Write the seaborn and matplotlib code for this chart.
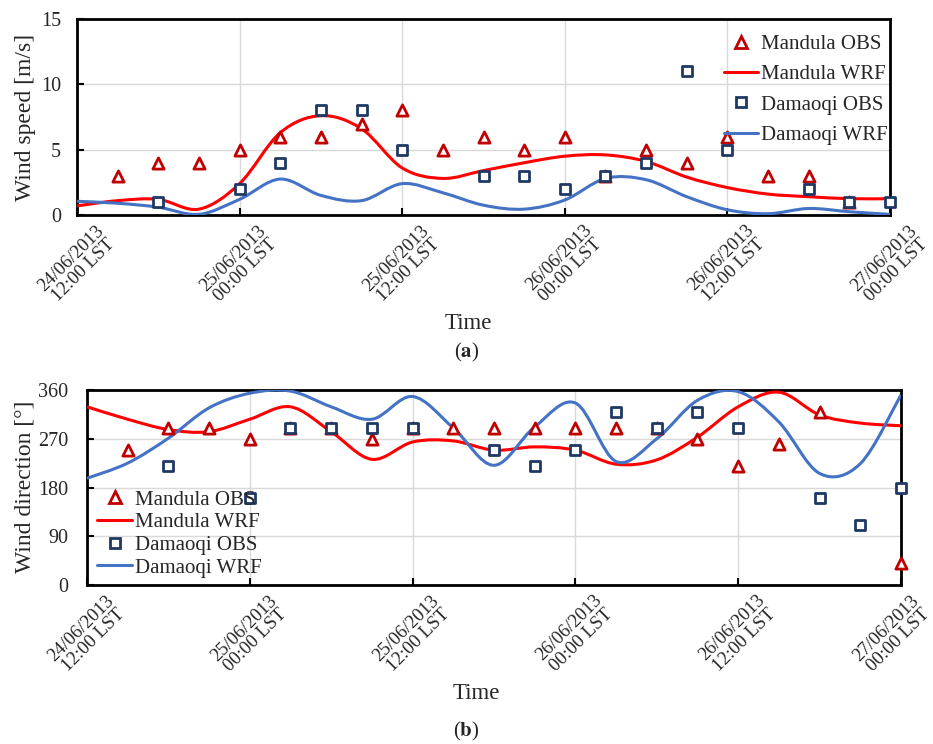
import numpy as np
import pandas as pd
import matplotlib
matplotlib.use("Agg")
import matplotlib.pyplot as plt
import matplotlib.transforms as mtransforms
import seaborn as sns
from matplotlib.path import Path
from matplotlib.patches import PathPatch
from matplotlib.lines import Line2D

# ---------------- data ----------------
hours_obs = [3, 6, 9, 12, 15, 18, 21, 24, 27, 30, 33, 36, 39, 42, 45, 48, 51, 54, 57, 60]
wrf_hours = list(range(0, 61, 3))
tick_hours = [0, 12, 24, 36, 48, 60]
tick_labels = ["24/06/2013\n12:00 LST", "25/06/2013\n00:00 LST", "25/06/2013\n12:00 LST",
               "26/06/2013\n00:00 LST", "26/06/2013\n12:00 LST", "27/06/2013\n00:00 LST"]

# wind speed (m/s); None = no observation
mandula_ws_obs = [3, 4, 4, 5, 6, 6, 7, 8, 5, 6, 5, 6, 3, 5, 4, 6, 3, 3, 1, None]
damaoqi_ws_obs = [None, 1, None, 2, 4, 8, 8, 5, None, 3, 3, 2, 3, 4, 11, 5, None, 2, 1, 1]
mandula_ws_wrf = [0.7, 1.1, 1.2, 0.45, 2.4, 6.3, 7.6, 6.6, 3.6, 2.8, 3.4, 4.0, 4.5, 4.6, 4.1,
                  2.9, 2.1, 1.6, 1.4, 1.25, 1.25]
damaoqi_ws_wrf = [1.05, 0.9, 0.6, 0.05, 1.2, 2.75, 1.5, 1.1, 2.4, 1.7, 0.75, 0.45, 1.15, 2.8,
                  2.7, 1.4, 0.4, 0.1, 0.5, 0.25, 0.05]

# wind direction (deg)
mandula_wd_obs = [250, 290, 290, 270, 290, 290, 270, 290, 290, 290, 290, 290, 290, 290, 270,
                  220, 260, 320, None, 40]
damaoqi_wd_obs = [None, 220, None, 160, 290, 290, 290, 290, None, 250, 220, 250, 320, 290, 320,
                  290, None, 160, 110, 180]
mandula_wd_wrf = [329, 306, 287, 283, 306, 329, 283, 232, 264, 266, 249, 255, 249, 223, 231,
                  273, 329, 356, 314, 299, 294]
damaoqi_wd_wrf = [197, 225, 271, 327, 354, 358, 329, 306, 348, 290, 221, 292, 336, 228, 270,
                  341, 357, 301, 206, 224, 351]

# ---------------- style ----------------
sns.set_theme(style="whitegrid")
plt.rcParams["font.family"] = ["Liberation Serif", "DejaVu Serif"]
plt.rcParams["mathtext.fontset"] = "stix"

RED_OBS = "#C00000"
RED_WRF = "#FF0000"
BLUE_OBS = "#1F3864"
BLUE_WRF = "#4472C4"


def smooth_path(xs, ys):
    """Excel-like smoothed line (cubic Bezier through the data points)."""
    xs = np.asarray(xs, float)
    ys = np.asarray(ys, float)
    n = len(xs)
    verts = [(xs[0], ys[0])]
    codes = [Path.MOVETO]
    for i in range(n - 1):
        p0 = np.array([xs[max(i - 1, 0)], ys[max(i - 1, 0)]])
        p1 = np.array([xs[i], ys[i]])
        p2 = np.array([xs[i + 1], ys[i + 1]])
        p3 = np.array([xs[min(i + 2, n - 1)], ys[min(i + 2, n - 1)]])
        c1 = p1 + (p2 - p0) / 6.0
        c2 = p2 - (p3 - p1) / 6.0
        verts += [tuple(c1), tuple(c2), tuple(p2)]
        codes += [Path.CURVE4] * 3
    return Path(verts, codes)


def draw_panel(ax, m_obs, d_obs, m_wrf, d_wrf, ylim, yticks, ylabel, ypad,
               xlabel_xy, ylabel_xy, legend_kw):
    df_m = pd.DataFrame({"t": hours_obs, "v": m_obs}).dropna()
    df_d = pd.DataFrame({"t": hours_obs, "v": d_obs}).dropna()
    ax.add_patch(PathPatch(smooth_path(wrf_hours, m_wrf), fill=False, edgecolor=RED_WRF,
                           lw=2.2, zorder=3, clip_on=True))
    ax.add_patch(PathPatch(smooth_path(wrf_hours, d_wrf), fill=False, edgecolor=BLUE_WRF,
                           lw=2.2, zorder=3, clip_on=True))
    sns.scatterplot(data=df_m, x="t", y="v", ax=ax, marker="^", s=65, facecolor="white",
                    edgecolor=RED_OBS, linewidth=2.0, zorder=4, clip_on=False)
    sns.scatterplot(data=df_d, x="t", y="v", ax=ax, marker="s", s=60, facecolor="white",
                    edgecolor=BLUE_OBS, linewidth=2.0, zorder=4, clip_on=False)
    ax.set_xlim(0, 60)
    ax.set_ylim(*ylim)
    ax.set_yticks(yticks)
    ax.set_xticks(tick_hours)
    ax.set_xticklabels(tick_labels, rotation=45, ha="center", va="top",
                       fontsize=13.5, linespacing=1.0)
    ax.tick_params(axis="y", labelsize=14.5, direction="in", length=5, width=1.5,
                   color="black", pad=ypad, left=True)
    ax.tick_params(axis="x", direction="in", length=5, width=1.5, color="black", pad=5,
                   bottom=True)
    ax.set_ylabel(ylabel, fontsize=17)
    ax.set_xlabel("Time", fontsize=16.5)
    ax.xaxis.set_label_coords(*xlabel_xy)
    ax.yaxis.set_label_coords(*ylabel_xy)
    ax.grid(True, color="#D9D9D9", lw=1.0)
    ax.set_facecolor("white")
    for sp in ax.spines.values():
        sp.set_color("black")
        sp.set_linewidth(2.0)
    handles = [
        Line2D([], [], ls="none", marker="^", ms=8, mfc="white", mec=RED_OBS, mew=2.0),
        Line2D([], [], color=RED_WRF, lw=2.2),
        Line2D([], [], ls="none", marker="s", ms=7.5, mfc="white", mec=BLUE_OBS, mew=2.0),
        Line2D([], [], color=BLUE_WRF, lw=2.2),
    ]
    ax.legend(handles, ["Mandula OBS", "Mandula WRF", "Damaoqi OBS", "Damaoqi WRF"],
              frameon=False, fontsize=15, handlelength=1.65, handletextpad=0.15,
              borderaxespad=0.0, **legend_kw)


fig = plt.figure(figsize=(9.33, 7.44), dpi=100)
ax1 = fig.add_axes([0.0825, 0.711, 0.8715, 0.2635])
ax2 = fig.add_axes([0.0932, 0.2137, 0.8725, 0.2621])

draw_panel(ax1, mandula_ws_obs, damaoqi_ws_obs, mandula_ws_wrf, damaoqi_ws_wrf,
           (0, 15), [0, 5, 10, 15], "Wind speed [m/s]", 11.5,
           (0.481, -0.50), (-0.05, 0.5),
           dict(loc="upper left", bbox_to_anchor=(0.785, 0.964), labelspacing=0.52))
draw_panel(ax2, mandula_wd_obs, damaoqi_wd_obs, mandula_wd_wrf, damaoqi_wd_wrf,
           (0, 360), [0, 90, 180, 270, 360], "Wind direction [°]", 13.5,
           (0.478, -0.503), (-0.063, 0.503),
           dict(loc="lower left", bbox_to_anchor=(0.0025, -0.005), labelspacing=0.15))

# keep the last date label of the lower panel inside the figure edge
last_lbl = ax2.get_xticklabels()[-1]
last_lbl.set_transform(last_lbl.get_transform() +
                       mtransforms.ScaledTranslation(-9 / 100, 0, fig.dpi_scale_trans))

fig.text(0.5, 1 - 352 / 744, r"($\mathbf{a}$)", ha="center", va="center", fontsize=15)
fig.text(0.5, 1 - 731 / 744, r"($\mathbf{b}$)", ha="center", va="center", fontsize=15)

fig.savefig("out.png", dpi=100, facecolor="white")
